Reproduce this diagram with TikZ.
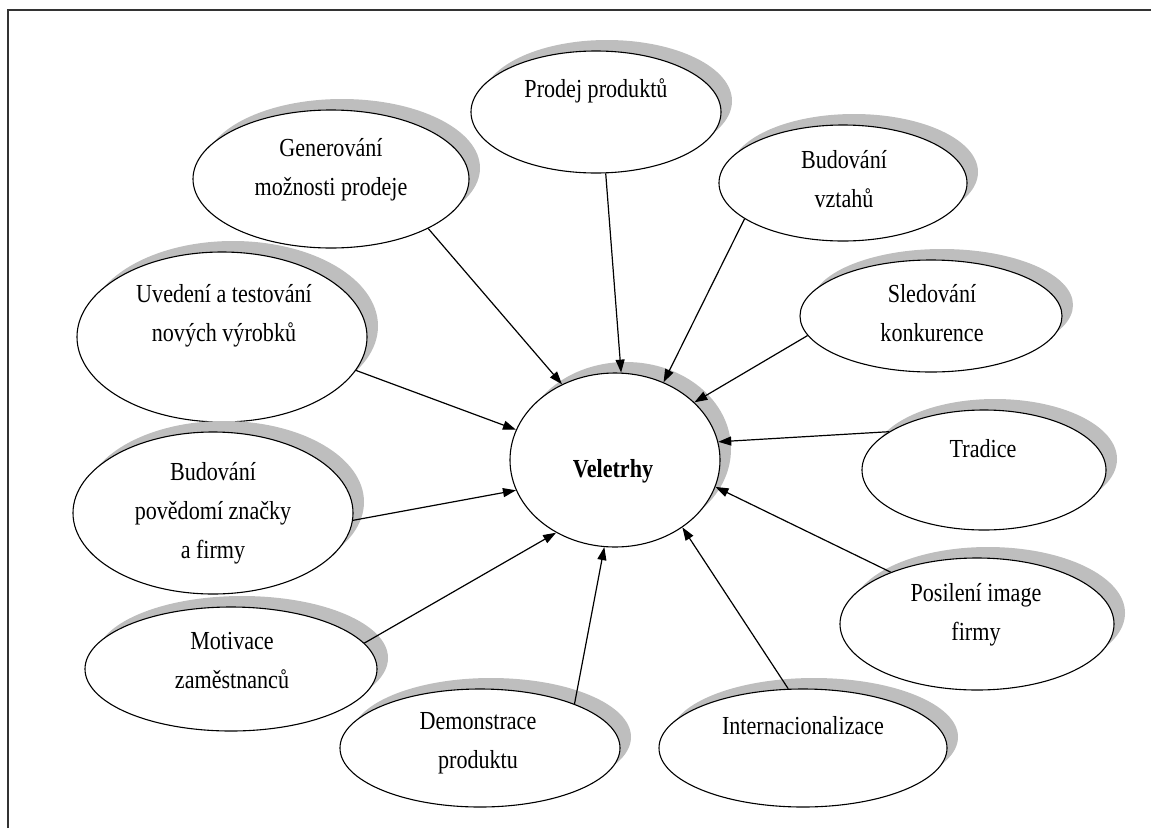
\documentclass[tikz,border=0pt]{standalone}
\usepackage{fontspec}
\setmainfont{Liberation Serif}[FakeStretch=0.85]
\usetikzlibrary{shapes.geometric,shadows,arrows.meta}
\definecolor{shadowgray}{RGB}{190,190,190}
\begin{document}
\begin{tikzpicture}[x=1pt,y=-1pt,
  bubble/.style={ellipse, draw=black, line width=1.1pt, fill=white, inner sep=0pt,
    drop shadow={shadow xshift=11pt, shadow yshift=11pt, fill=shadowgray, opacity=1}},
  txt/.style={align=center, font=\fontsize{26}{39}\selectfont, inner sep=0pt},
  arr/.style={line width=1.2pt, -{Triangle[length=13pt,width=9pt]}},
  frame/.style={line width=1.8pt, draw=black!80}]
\useasboundingbox (0,0) rectangle (1151,828);
% frame
\coordinate (fBL) at (8,828);
\coordinate (fTL) at (8,10);
\coordinate (fTR) at (1151,10);
\draw[frame] (fBL) -- (fTL) -- (fTR);
% ellipses
\node[bubble, minimum width=276pt, minimum height=138pt] (gen) at (331,179) {};
\node[bubble, minimum width=250pt, minimum height=122pt] (prod) at (596,112) {};
\node[bubble, minimum width=248pt, minimum height=116pt] (vzt) at (843,183) {};
\node[bubble, minimum width=262pt, minimum height=112pt] (sled) at (931,316) {};
\node[bubble, minimum width=290pt, minimum height=170pt] (uved) at (222,337) {};
\node[bubble, minimum width=244pt, minimum height=120pt] (trad) at (984,470) {};
\node[bubble, minimum width=280pt, minimum height=162pt] (pov) at (213,513) {};
\node[bubble, minimum width=274pt, minimum height=132pt] (pos) at (977,624) {};
\node[bubble, minimum width=292pt, minimum height=124pt] (mot) at (231,669) {};
\node[bubble, minimum width=280pt, minimum height=118pt] (demo) at (480,748) {};
\node[bubble, minimum width=288pt, minimum height=118pt] (inter) at (803,748) {};
\node[bubble, minimum width=210pt, minimum height=174pt] (vel) at (615,460) {};
% texts
\node[txt] (genT) at (331,170) {Generování\\možnosti prodeje};
\node[txt, anchor=base] (prodT) at (596,97) {Prodej produktů};
\node[txt] (vztT) at (844,179) {Budování\\vztahů};
\node[txt] (sledT) at (932,313) {Sledování\\konkurence};
\node[txt] (uvedT) at (224,316) {Uvedení a testování\\nových výrobků};
\node[txt, anchor=base] (tradT) at (983,457) {Tradice};
\node[txt] (povT) at (213,513) {Budování\\povědomí značky\\a firmy};
\node[txt] (posT) at (976,615) {Posilení image\\firmy};
\node[txt] (motT) at (232,661) {Motivace\\zaměstnanců};
\node[txt] (demoT) at (478,743) {Demonstrace\\produktu};
\node[txt, anchor=base] (interT) at (803,734) {Internacionalizace};
\node[txt, anchor=base, font=\fontsize{26}{39}\selectfont\bfseries] (velT) at (613,477) {Veletrhy};
% arrows
\draw[arr] (gen.-27.5) -- (vel.125);
\draw[arr] (prod.-81.6) -- (vel.86.8);
\draw[arr] (vzt.-160.9) -- (vel.58.9);
\draw[arr] (sled.-171.7) -- (vel.36.4);
\draw[arr] (trad.158.1) -- (vel.10);
\draw[arr] (pos.149.3) -- (vel.-15);
\draw[arr] (inter.104.3) -- (vel.-45.8);
\draw[arr] (demo.25.3) -- (vel.-97.9);
\draw[arr] (mot.11.1) -- (vel.-129);
\draw[arr] (pov.-3.2) -- (vel.-163.8);
\draw[arr] (uved.-14) -- (vel.163.6);
\end{tikzpicture}
\end{document}
